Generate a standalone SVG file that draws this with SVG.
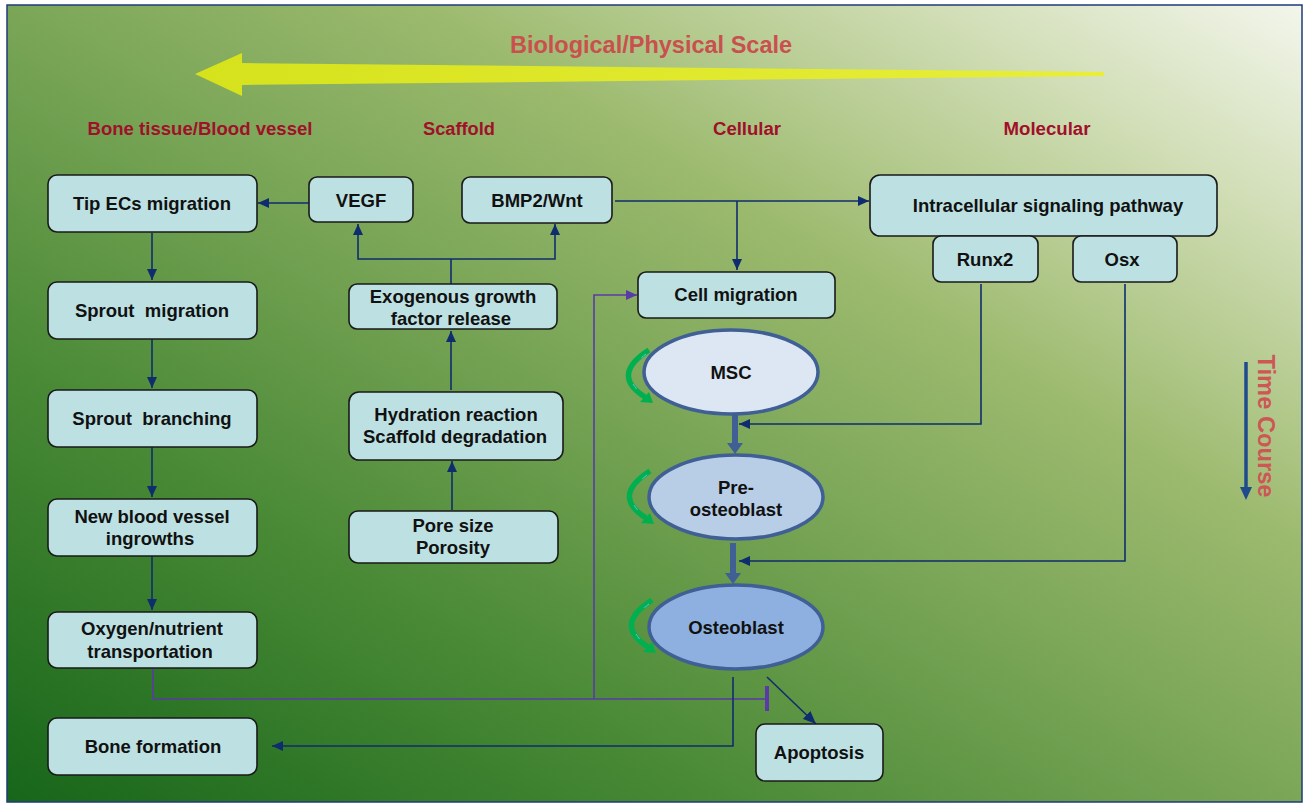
<svg xmlns="http://www.w3.org/2000/svg" width="1303" height="805" viewBox="0 0 1303 805">
<defs>
<linearGradient id="bg" x1="0" y1="1" x2="1" y2="0">
<stop offset="0" stop-color="#17661a"/>
<stop offset="0.28" stop-color="#4a8a36"/>
<stop offset="0.5" stop-color="#7ba658"/>
<stop offset="0.66" stop-color="#9cba6e"/>
<stop offset="0.84" stop-color="#cddbb0"/>
<stop offset="1" stop-color="#f3f6ec"/>
</linearGradient>
<linearGradient id="yel" x1="0" y1="0" x2="1" y2="0">
<stop offset="0" stop-color="#d6e21c"/>
<stop offset="1" stop-color="#e8ee3a"/>
</linearGradient>
<marker id="arr" viewBox="0 0 11 10" refX="11" refY="5" markerWidth="11" markerHeight="10" markerUnits="userSpaceOnUse" orient="auto">
<path d="M0,0 L11,5 L0,10 z" fill="#0f2d6e"/>
</marker>
<marker id="arrp" viewBox="0 0 11 10" refX="11" refY="5" markerWidth="11" markerHeight="10" markerUnits="userSpaceOnUse" orient="auto">
<path d="M0,0 L11,5 L0,10 z" fill="#5b3aa8"/>
</marker>
<marker id="arrd" viewBox="0 0 13 11" refX="13" refY="5.5" markerWidth="13" markerHeight="11" markerUnits="userSpaceOnUse" orient="auto">
<path d="M0,0 L13,5.5 L0,11 z" fill="#0f2d6e"/>
</marker>
<g id="cyc">
<path d="M21,2 Q-18,27 17,49" fill="none" stroke="#00b050" stroke-width="5.5"/>
<path d="M18,6 Q-10,27 14,46" fill="none" stroke="#4ec8ec" stroke-width="1" stroke-dasharray="6 30"/>
<polygon points="25,55 12,54 21,44" fill="#00b050"/>
</g>
<style>
.box{fill:#bde1e3;stroke:#1a1a1a;stroke-width:1.6}
.t{font-family:"Liberation Sans",Arial,sans-serif;font-weight:bold;font-size:18.5px;fill:#111;text-anchor:middle;white-space:pre}
.hdr{font-family:"Liberation Sans",Arial,sans-serif;font-weight:bold;font-size:17.5px;fill:#a0102a;text-anchor:middle}
.ttl{font-family:"Liberation Sans",Arial,sans-serif;font-weight:bold;font-size:23.5px;fill:#c9504f;text-anchor:middle}
.con{fill:none;stroke:#0f2d6e;stroke-width:1.6}
.pur{fill:none;stroke:#5b3aa8;stroke-width:1.6}
.cell{stroke:#3f5f95;stroke-width:3.5}
</style>
</defs>
<rect x="0" y="0" width="1303" height="805" fill="#ffffff"/>
<rect x="7" y="5" width="1295" height="797" fill="url(#bg)" stroke="#1f3b7a" stroke-width="1.5"/>

<g id="scale-arrow">
<polygon points="195,74 242,53 242,63 1104,72 1104,76 242,85 242,96" fill="url(#yel)"/>
<text class="ttl" x="651" y="53">Biological/Physical Scale</text>
</g>

<g id="headers">
<text class="hdr" x="200" y="135" textLength="225" lengthAdjust="spacingAndGlyphs">Bone tissue/Blood vessel</text>
<text class="hdr" x="459" y="135" textLength="72" lengthAdjust="spacingAndGlyphs">Scaffold</text>
<text class="hdr" x="747" y="135" textLength="68" lengthAdjust="spacingAndGlyphs">Cellular</text>
<text class="hdr" x="1047" y="135" textLength="87" lengthAdjust="spacingAndGlyphs">Molecular</text>
</g>

<g id="time-course">
<path d="M1246,362 V488" stroke="#1f4b8c" stroke-width="3.5" fill="none"/>
<polygon points="1240,487 1252,487 1246,500" fill="#1f4b8c"/>
<text class="ttl" transform="translate(1258,426) rotate(90)" x="0" y="0" style="fill:#cf5656" textLength="143" lengthAdjust="spacingAndGlyphs">Time Course</text>
</g>

<g id="connectors">
<path class="con" d="M309,203 H258" marker-end="url(#arr)"/>
<path class="con" d="M152,233 V280" marker-end="url(#arr)"/>
<path class="con" d="M152,339 V388" marker-end="url(#arr)"/>
<path class="con" d="M152,447 V497" marker-end="url(#arr)"/>
<path class="con" d="M152,556 V610" marker-end="url(#arr)"/>
<path class="con" d="M451,284 V259"/>
<path class="con" d="M451,259 H358 V224" marker-end="url(#arr)"/>
<path class="con" d="M451,259 H555 V224" marker-end="url(#arr)"/>
<path class="con" d="M451,390 V331" marker-end="url(#arr)"/>
<path class="con" d="M452,510 V461" marker-end="url(#arr)"/>
<path class="con" d="M615,201 H869" marker-end="url(#arr)"/>
<path class="con" d="M737,201 V270" marker-end="url(#arr)"/>
<path class="con" d="M981,284 V424 H739" marker-end="url(#arr)"/>
<path class="con" d="M1125,284 V561 H739" marker-end="url(#arr)"/>
<path class="pur" d="M153,668 V699 H766"/>
<path class="pur" d="M594,699 V295 H637" marker-end="url(#arrp)"/>
<path d="M767,686 V711" stroke="#5b3aa8" stroke-width="4" fill="none"/>
<path class="con" d="M733,677 V746 H272" marker-end="url(#arr)"/>
<path class="con" d="M767,677 L816,724" stroke-width="2.3" marker-end="url(#arrd)"/>
<path d="M735,414 V444" stroke="#3f5f95" stroke-width="6" fill="none"/>
<polygon points="727,443 743,443 735,454" fill="#3f5f95"/>
<path d="M733,543 V574" stroke="#3f5f95" stroke-width="6" fill="none"/>
<polygon points="725,573 741,573 733,584" fill="#3f5f95"/>
<use href="#cyc" x="628" y="348"/>
<use href="#cyc" x="629" y="469"/>
<use href="#cyc" x="631" y="598"/>
</g>

<g id="tip-ecs"><rect class="box" x="48" y="175" width="209" height="57" rx="9"/><text class="t" x="152" y="210">Tip ECs migration</text></g>
<g id="sprout-migration"><rect class="box" x="48" y="282" width="209" height="57" rx="9"/><text class="t" x="152" y="317">Sprout  migration</text></g>
<g id="sprout-branching"><rect class="box" x="48" y="390" width="209" height="57" rx="9"/><text class="t" x="152" y="425">Sprout  branching</text></g>
<g id="new-vessel"><rect class="box" x="48" y="499" width="209" height="57" rx="9"/><text class="t" x="152" y="523">New blood vessel</text><text class="t" x="150" y="545">ingrowths</text></g>
<g id="oxygen"><rect class="box" x="48" y="612" width="209" height="56" rx="9"/><text class="t" x="152" y="635">Oxygen/nutrient</text><text class="t" x="150" y="658">transportation</text></g>
<g id="bone-formation"><rect class="box" x="48" y="718" width="209" height="57" rx="9"/><text class="t" x="153" y="753">Bone formation</text></g>

<g id="vegf"><rect class="box" x="309" y="177" width="104" height="45" rx="8"/><text class="t" x="361" y="207">VEGF</text></g>
<g id="bmp2"><rect class="box" x="462" y="177" width="150" height="46" rx="8"/><text class="t" x="537" y="207">BMP2/Wnt</text></g>
<g id="exogenous"><rect class="box" x="349" y="284" width="208" height="45" rx="8"/><text class="t" x="453" y="303">Exogenous growth</text><text class="t" x="451" y="325">factor release</text></g>
<g id="hydration"><rect class="box" x="349" y="392" width="214" height="68" rx="10"/><text class="t" x="456" y="421">Hydration reaction</text><text class="t" x="455" y="443">Scaffold degradation</text></g>
<g id="pore"><rect class="box" x="349" y="511" width="209" height="52" rx="9"/><text class="t" x="453" y="532">Pore size</text><text class="t" x="453" y="554">Porosity</text></g>

<g id="cell-migration"><rect class="box" x="638" y="272" width="197" height="46" rx="8"/><text class="t" x="736" y="301">Cell migration</text></g>
<g id="msc"><ellipse class="cell" cx="731" cy="372" rx="87" ry="42" fill="#dde6f3"/><text class="t" x="731" y="379">MSC</text></g>
<g id="pre-osteoblast"><ellipse class="cell" cx="736" cy="497" rx="87" ry="42" fill="#b8cde6"/><text class="t" x="736" y="494">Pre-</text><text class="t" x="736" y="516">osteoblast</text></g>
<g id="osteoblast"><ellipse class="cell" cx="736" cy="627" rx="87" ry="42" fill="#8db0e0"/><text class="t" x="736" y="634">Osteoblast</text></g>
<g id="apoptosis"><rect class="box" x="756" y="724" width="127" height="57" rx="9"/><text class="t" x="819" y="759">Apoptosis</text></g>

<g id="intracellular"><rect class="box" x="870" y="175" width="347" height="61" rx="10"/><text class="t" x="1048" y="212">Intracellular signaling pathway</text></g>
<g id="runx2"><rect class="box" x="933" y="236" width="105" height="46" rx="8"/><text class="t" x="985" y="266">Runx2</text></g>
<g id="osx"><rect class="box" x="1073" y="236" width="104" height="46" rx="8"/><text class="t" x="1122" y="266">Osx</text></g>
</svg>
